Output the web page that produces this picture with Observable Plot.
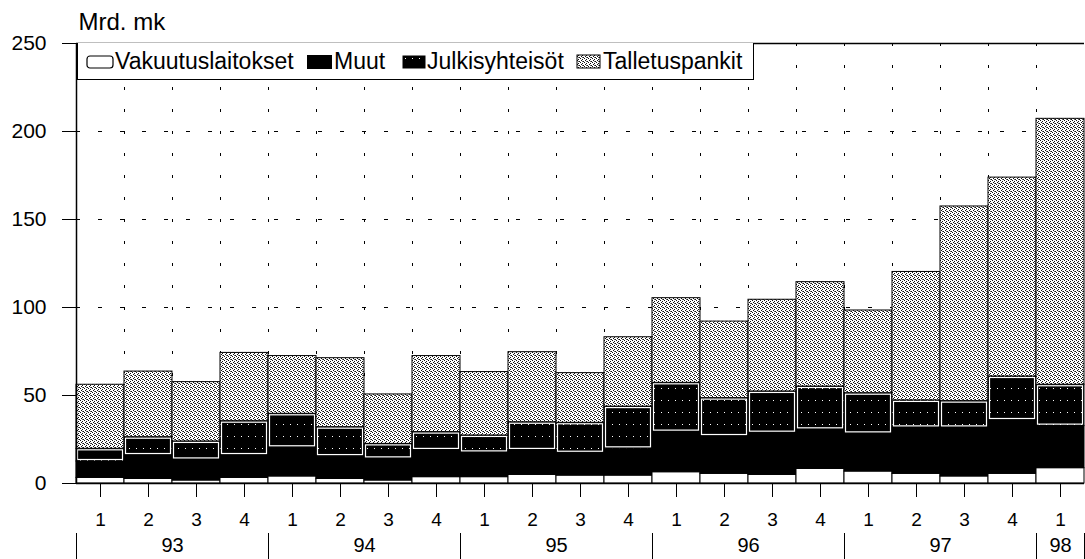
<!DOCTYPE html>
<html>
<head>
<meta charset="utf-8">
<script src="https://cdn.jsdelivr.net/npm/d3@7"></script>
<script src="https://cdn.jsdelivr.net/npm/@observablehq/plot@0.6"></script>
<style>
  html, body { margin: 0; padding: 0; background: #fff; }
  body { font-family: "Liberation Sans", Arial, sans-serif; }
  #wrap { position: relative; width: 1085px; height: 559px; overflow: hidden; }
  #legend { position: absolute; left: 77px; top: 43px; width: 675px; height: 36px; border: 1px solid #000; border-top: none; background: #fff; font-size: 23px; }
  #legend .item { position: absolute; top: 0; height: 37px; display: flex; align-items: center; white-space: nowrap; }
  #legend svg { margin-right: 1px; }
</style>
</head>
<body>
<svg width="0" height="0" style="position:absolute">
  <defs>
    <pattern id="stip" width="4" height="4" patternUnits="userSpaceOnUse">
      <rect width="4" height="4" fill="#fff"/>
      <rect x="0" y="0" width="1" height="1" fill="#111"/>
      <rect x="2" y="1" width="1" height="1" fill="#111"/>
      <rect x="1" y="2" width="1" height="1" fill="#111"/>
      <rect x="3" y="3" width="1" height="1" fill="#111"/>
      <rect x="2" y="3" width="1" height="1" fill="#666"/>
    </pattern>
    <pattern id="julk" width="7" height="12" patternUnits="userSpaceOnUse">
      <rect width="7" height="12" fill="#000"/>
      <rect x="3" y="4" width="1" height="1" fill="#fff"/>
    </pattern>
  </defs>
</svg>
<div id="wrap"></div>
<script>
// ---- data ----
const years = ["93", "94", "95", "96", "97", "98"];
const quartersPerYear = [4, 4, 4, 4, 4, 1];
const quarterLabels = ["1","2","3","4","1","2","3","4","1","2","3","4","1","2","3","4","1","2","3","4","1"];
const seriesNames = ["Vakuutuslaitokset", "Muut", "Julkisyhteisöt", "Talletuspankit"];
const vakuutuslaitokset = [3.2, 2.6, 1.7, 3.2, 4.0, 2.6, 1.7, 3.6, 3.6, 4.9, 4.5, 4.5, 6.4, 5.5, 4.9, 8.3, 6.8, 5.5, 4.0, 5.5, 8.7];
const muut = [9.3, 13.3, 11.7, 12.7, 16.3, 12.7, 12.3, 15.2, 13.8, 13.9, 12.7, 15.2, 22.8, 21.2, 23.7, 22.2, 21.4, 26.1, 27.6, 30.3, 23.9];
const julkisyhteisot = [7.2, 10.4, 10.5, 19.5, 19.3, 16.7, 8.5, 10.4, 9.9, 16.0, 17.3, 24.0, 28.0, 21.8, 23.7, 24.6, 23.1, 15.6, 15.2, 25.0, 23.5];
const talletuspankit = [36.4, 37.3, 33.7, 38.8, 32.8, 39.2, 28.1, 43.2, 36.0, 39.8, 28.2, 39.4, 48.1, 43.5, 52.1, 59.3, 47.0, 73.0, 110.6, 113.0, 151.1];
const yTicks = [0, 50, 100, 150, 200, 250];
const gridY = [50, 100, 150, 200];
const unitLabel = "Mrd. mk";

// ---- derived tables ----
const seriesValues = [vakuutuslaitokset, muut, julkisyhteisot, talletuspankit];
const fills = ["#fff", "#000", "url(#julk)", "url(#stip)"];
const n = quarterLabels.length;
const rows = [];
for (let i = 0; i < n; i++) {
  let acc = 0;
  seriesValues.forEach((vals, s) => {
    rows.push({i, series: seriesNames[s], y1: acc, y2: acc + vals[i]});
    acc += vals[i];
  });
}
const yearRows = [];
let start = 0;
years.forEach((y, k) => {
  const end = start + quartersPerYear[k];
  yearRows.push({year: y, start, end, mid: (start + end) / 2});
  start = end;
});
const yearBounds = [0, ...yearRows.map(d => d.end)];
const centers = d3.range(n).map(i => i + 0.5);

const chart = Plot.plot({
  width: 1085,
  height: 559,
  marginLeft: 76,
  marginRight: 1,
  marginTop: 43,
  marginBottom: 76,
  style: {fontFamily: "'Liberation Sans', Arial, sans-serif", fontSize: "19px", color: "#000", background: "#fff", overflow: "visible"},
  x: {type: "linear", domain: [0, n]},
  y: {domain: [0, 250]},
  color: {type: "ordinal", domain: seriesNames, range: fills},
  marks: [
    Plot.ruleY(gridY, {stroke: "#000", strokeDasharray: "4,18", strokeWidth: 1}),
    Plot.ruleX(d3.range(1, n), {stroke: "#000", strokeDasharray: "3,19", strokeWidth: 1}),
    Plot.rectY(rows, {x1: "i", x2: d => d.i + 1, y1: "y1", y2: "y2", fill: "series", stroke: "#000", strokeWidth: 1}),
    Plot.rectY(rows.filter(d => d.series === "Julkisyhteisöt"), {x1: "i", x2: d => d.i + 1, y1: "y1", y2: "y2", fill: "none", stroke: "#fff", strokeWidth: 1.2, insetLeft: 1.5, insetRight: 1.5, insetTop: 1.5, insetBottom: 1.5}),
    Plot.ruleX([0], {stroke: "#000", strokeWidth: 1.5}),
    Plot.ruleY([0], {stroke: "#000", strokeWidth: 1.5}),
    Plot.ruleY([250], {stroke: "#000", strokeWidth: 1.5}),
    Plot.axisY({ticks: yTicks, tickSize: 14, tickPadding: 16, fontSize: 21, tickFormat: d => String(d)}),
    Plot.axisX({ticks: centers, tickSize: 14, tickPadding: 15, fontSize: 19, tickFormat: d => quarterLabels[Math.floor(d)]}),
    Plot.ruleX(yearBounds, {x: d => d, y1: 0, y2: 0, insetTop: 50, insetBottom: -76, stroke: "#000", strokeWidth: 1}),
    Plot.text(yearRows, {x: "mid", text: "year", frameAnchor: "bottom", dy: 62, fontSize: 20, lineAnchor: "middle"}),
    Plot.text([unitLabel], {frameAnchor: "top-left", dx: 2, dy: -21, fontSize: 24, textAnchor: "start", lineAnchor: "middle", letterSpacing: "0.8px"})
  ]
});

const wrap = document.getElementById("wrap");
wrap.appendChild(chart);

// legend overlay (inside the plot frame, top-left)
const legend = document.createElement("div");
legend.id = "legend";
const lefts = [8, 228, 324, 498];
const swatches = [
  '<svg width="28" height="16"><rect x="1" y="2" width="26" height="12" rx="3" fill="#fff" stroke="#000" stroke-width="1.2"/></svg>',
  '<svg width="27" height="16"><rect x="1" y="1" width="25" height="14" fill="#000"/></svg>',
  '<svg width="24" height="16"><rect x="1" y="2" width="22" height="12" fill="url(#julk)" stroke="#000"/></svg>',
  '<svg width="26" height="16"><rect x="1" y="1" width="23" height="13" fill="url(#stip)" stroke="#000"/></svg>'
];
seriesNames.forEach((name, k) => {
  const it = document.createElement("div");
  it.className = "item";
  it.style.left = lefts[k] + "px";
  it.innerHTML = swatches[k] + "<span>" + name + "</span>";
  legend.appendChild(it);
});
wrap.appendChild(legend);
</script>
</body>
</html>
